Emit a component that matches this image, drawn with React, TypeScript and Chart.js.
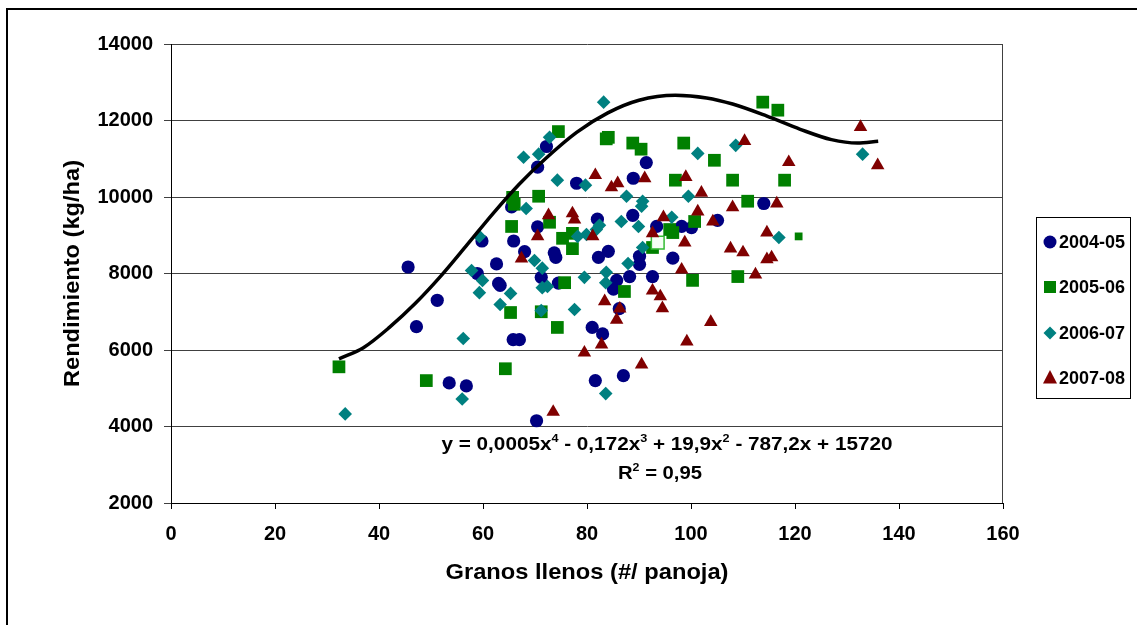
import React, { useEffect, useRef } from "react";
import { Chart, registerables } from "chart.js";

Chart.register(...registerables);

const FONT = '"Liberation Sans", Arial, sans-serif';

const seasons = ["2004-05", "2005-06", "2006-07", "2007-08"];
const seasonColors = ["#000080", "#008000", "#008080", "#800000"];

// 2004-05 (circles)
const granos0405 = [45.6, 47.2, 51.2, 53.5, 56.8, 58.9, 59.8, 62.6, 63.0, 63.3, 65.5, 65.9, 65.8, 67.0, 68.0, 70.5, 70.5, 70.3, 71.2, 72.2, 73.7, 74.0, 74.5, 78.0, 81.0, 81.6, 82.0, 82.2, 83.0, 84.1, 85.1, 85.7, 86.2, 87.0, 88.2, 88.8, 88.9, 90.1, 90.1, 91.4, 92.6, 93.4, 96.5, 98.2, 100.1, 105.1, 114.0];
const rend0405 = [8170, 6610, 7300, 5140, 5060, 8000, 8850, 8250, 7740, 7690, 9740, 8850, 6270, 6270, 8570, 10780, 9220, 4150, 7900, 11320, 8540, 8420, 7750, 10360, 6590, 5200, 9420, 8420, 6420, 8580, 7590, 7820, 7080, 5330, 7920, 9520, 10490, 8240, 8450, 10900, 7920, 9230, 8400, 9230, 9200, 9390, 9830];

// 2005-06 (squares)
const granos0506 = [32.3, 49.1, 64.3, 65.3, 65.5, 65.7, 66.0, 70.7, 71.2, 72.8, 74.3, 74.5, 75.3, 75.7, 77.2, 77.2, 83.7, 84.1, 87.2, 88.8, 90.4, 92.6, 93.6, 95.9, 96.5, 97.0, 98.6, 100.3, 100.7, 104.5, 108.0, 109.0, 110.9, 113.8, 116.7, 118.0, 120.7];
const rend0506 = [5560, 5200, 5510, 6980, 9230, 9990, 9810, 10020, 7000, 9340, 6590, 11710, 8920, 7760, 9050, 8650, 11520, 11560, 7530, 11410, 11250, 8680, 8810, 9150, 9070, 10440, 11410, 7820, 9360, 10960, 10440, 7920, 9890, 12480, 12270, 10440, 8970];

// 2006-07 (diamonds)
const granos0607 = [33.5, 56.0, 56.2, 57.8, 59.3, 59.3, 59.9, 63.3, 65.3, 67.8, 68.3, 69.9, 70.7, 71.2, 71.4, 71.4, 72.4, 72.8, 74.3, 77.6, 78.2, 79.5, 79.7, 79.9, 81.8, 82.4, 83.2, 83.6, 83.6, 83.7, 86.6, 87.6, 87.9, 89.9, 90.5, 90.7, 90.7, 96.3, 99.5, 101.3, 108.6, 116.9, 133.0];
const rend0607 = [4330, 4720, 6300, 8080, 8970, 7500, 7820, 7190, 7480, 11040, 9700, 8340, 11120, 7030, 8140, 7630, 7660, 11560, 10440, 7060, 8970, 7900, 10310, 9020, 9150, 9260, 12480, 4860, 7760, 8030, 9360, 10020, 8260, 9230, 9760, 9890, 8680, 9470, 10020, 11140, 11350, 8940, 11120];

// 2007-08 (triangles)
const granos0708 = [67.4, 70.5, 72.6, 73.5, 77.2, 77.6, 79.5, 81.1, 81.6, 82.8, 83.4, 84.7, 85.7, 85.9, 86.3, 90.5, 91.1, 92.6, 92.6, 94.1, 94.5, 94.7, 98.2, 98.8, 99.0, 99.2, 101.3, 102.0, 103.8, 104.2, 107.6, 108.0, 110.0, 110.3, 112.4, 114.6, 114.6, 115.5, 116.5, 118.8, 132.6, 135.9];
const rend0708 = [8390, 8970, 9520, 4380, 9570, 9410, 5930, 8970, 10570, 6140, 7270, 10250, 6790, 10360, 7080, 5620, 10490, 9050, 7550, 7400, 7090, 9470, 8100, 8810, 10520, 6220, 9620, 10110, 6730, 9360, 8650, 9730, 8550, 11460, 7970, 9070, 8370, 8420, 9830, 10910, 11830, 10830];

// Polynomial trend line
const curveX = [32.3, 37, 42, 47, 52, 57, 62, 67, 72, 78, 84, 90, 97, 103, 108, 114.5, 121, 127, 132, 136];
const curveY = [5770, 6060, 6590, 7220, 7950, 8760, 9580, 10340, 11000, 11690, 12200, 12530, 12660, 12590, 12430, 12120, 11770, 11500, 11410, 11460];

const xTitle = "Granos llenos (#/ panoja)";
const yTitle = "Rendimiento (kg/ha)";
const eqLine1: [string, boolean][] = [
  ["y = 0,0005x", false], ["4", true], [" - 0,172x", false], ["3", true],
  [" + 19,9x", false], ["2", true], [" - 787,2x + 15720", false],
];
const eqLine2: [string, boolean][] = [["R", false], ["2", true], [" = 0,95", false]];

const HOLLOW_IDX = 22;
const SMALL_IDX = 36;

const pts = (xs: number[], ys: number[]) => xs.map((x, i) => ({ x, y: ys[i] }));

function drawRich(ctx: CanvasRenderingContext2D, segs: [string, boolean][], cx: number, baseline: number, targetW: number, size: number) {
  const big = `bold ${size}px ${FONT}`;
  const small = `bold ${Math.round(size * 0.62)}px ${FONT}`;
  let w = 0;
  const widths = segs.map(([t, sup]) => {
    ctx.font = sup ? small : big;
    const m = ctx.measureText(t).width;
    w += m;
    return m;
  });
  const sx = targetW / w;
  ctx.save();
  ctx.translate(cx - targetW / 2, baseline);
  ctx.scale(sx, 1);
  ctx.fillStyle = "#000";
  ctx.textAlign = "left";
  ctx.textBaseline = "alphabetic";
  let x = 0;
  segs.forEach(([t, sup], i) => {
    ctx.font = sup ? small : big;
    ctx.fillText(t, x, sup ? -size * 0.42 : 0);
    x += widths[i];
  });
  ctx.restore();
}

function drawFitText(ctx: CanvasRenderingContext2D, text: string, cx: number, cy: number, targetW: number, size: number, rot: number) {
  ctx.save();
  ctx.font = `bold ${size}px ${FONT}`;
  const w = ctx.measureText(text).width;
  ctx.translate(cx, cy);
  ctx.rotate(rot);
  ctx.scale(targetW / w, 1);
  ctx.fillStyle = "#000";
  ctx.textAlign = "center";
  ctx.textBaseline = "middle";
  ctx.fillText(text, 0, 0);
  ctx.restore();
}

function drawMarker(ctx: CanvasRenderingContext2D, shape: number, x: number, y: number, color: string) {
  ctx.save();
  ctx.fillStyle = color;
  ctx.beginPath();
  if (shape === 0) {
    ctx.arc(x, y, 6.5, 0, Math.PI * 2);
  } else if (shape === 1) {
    ctx.rect(x - 6, y - 6, 12, 12);
  } else if (shape === 2) {
    ctx.moveTo(x - 6.5, y); ctx.lineTo(x, y - 6.5); ctx.lineTo(x + 6.5, y); ctx.lineTo(x, y + 6.5);
  } else {
    ctx.moveTo(x, y - 8); ctx.lineTo(x + 7, y + 5.5); ctx.lineTo(x - 7, y + 5.5);
  }
  ctx.closePath();
  ctx.fill();
  ctx.restore();
}

const decor = {
  id: "decor",
  beforeDatasetsDraw(chart: any) {
    const { ctx, chartArea: a } = chart;
    ctx.save();
    ctx.strokeStyle = "#404040";
    ctx.lineWidth = 1;
    ctx.beginPath();
    ctx.moveTo(Math.round(a.right) - 0.5, a.top);
    ctx.lineTo(Math.round(a.right) - 0.5, a.bottom);
    ctx.stroke();
    ctx.restore();
  },
  afterDraw(chart: any) {
    const ctx: CanvasRenderingContext2D = chart.ctx;
    drawFitText(ctx, xTitle, 587, 573, 283, 22, 0);
    drawFitText(ctx, yTitle, 73, 273.5, 227, 22, -Math.PI / 2);
    drawRich(ctx, eqLine1, 667, 450, 451, 18);
    drawRich(ctx, eqLine2, 660, 478.5, 84, 18);
    // legend
    ctx.save();
    ctx.strokeStyle = "#000";
    ctx.lineWidth = 1;
    ctx.strokeRect(1036.5, 217.5, 94, 181);
    const ys = [242, 287, 333, 378];
    seasons.forEach((s, i) => {
      drawMarker(ctx, i, 1050, ys[i], seasonColors[i]);
      ctx.font = `bold 18px ${FONT}`;
      ctx.fillStyle = "#000";
      ctx.textAlign = "left";
      ctx.textBaseline = "middle";
      ctx.fillText(s, 1059, ys[i] + 1);
    });
    ctx.restore();
  },
};

export default function App() {
  const ref = useRef<HTMLCanvasElement>(null);
  useEffect(() => {
    if (!ref.current) return;
    const tickFont = { family: FONT, size: 20, weight: "bold" as const };
    const chart = new Chart(ref.current, {
      type: "scatter",
      data: {
        datasets: [
          {
            label: seasons[0], data: pts(granos0405, rend0405), order: 4,
            pointStyle: "circle", pointRadius: 6.6, pointHoverRadius: 6.6,
            backgroundColor: seasonColors[0], borderColor: seasonColors[0], borderWidth: 0,
          },
          {
            label: seasons[1], data: pts(granos0506, rend0506), order: 3,
            pointStyle: "rect",
            pointRadius: (c: any) => (c.dataIndex === SMALL_IDX ? 5.5 : 9),
            pointHoverRadius: (c: any) => (c.dataIndex === SMALL_IDX ? 5.5 : 9),
            backgroundColor: (c: any) => (c.dataIndex === HOLLOW_IDX ? "#f4fff4" : seasonColors[1]),
            borderColor: (c: any) => (c.dataIndex === HOLLOW_IDX ? "#33bb33" : seasonColors[1]),
            borderWidth: (c: any) => (c.dataIndex === HOLLOW_IDX ? 1.5 : 0),
          },
          {
            label: seasons[2], data: pts(granos0607, rend0607), order: 2,
            pointStyle: "rectRot", pointRadius: 6.8, pointHoverRadius: 6.8,
            backgroundColor: seasonColors[2], borderColor: seasonColors[2], borderWidth: 0,
          },
          {
            label: seasons[3], data: pts(granos0708, rend0708), order: 1,
            pointStyle: "triangle", pointRadius: 7.8, pointHoverRadius: 7.8,
            backgroundColor: seasonColors[3], borderColor: seasonColors[3], borderWidth: 0,
          },
          {
            label: "Polinómica", data: pts(curveX, curveY), order: 0,
            showLine: true, pointRadius: 0, pointHoverRadius: 0,
            borderColor: "#000", borderWidth: 3.5, cubicInterpolationMode: "monotone",
            backgroundColor: "#000",
          } as any,
        ],
      },
      options: {
        animation: false,
        responsive: false,
        maintainAspectRatio: false,
        events: [],
        layout: { padding: { top: 44, right: 134, left: 0, bottom: 0 } },
        plugins: { legend: { display: false }, tooltip: { enabled: false }, title: { display: false } },
        scales: {
          x: {
            type: "linear", min: 0, max: 160,
            ticks: { stepSize: 20, font: tickFont, color: "#000", padding: 13, maxRotation: 0, callback: (v: any) => String(v) },
            grid: { drawOnChartArea: false, drawTicks: true, tickLength: 6, color: "#000" },
            border: { display: true, color: "#000", width: 1 },
            afterFit: (s: any) => { s.height = 122; },
          },
          y: {
            type: "linear", min: 2000, max: 14000,
            ticks: { stepSize: 2000, font: tickFont, color: "#000", padding: 11, callback: (v: any) => String(v) },
            grid: { color: "#404040", lineWidth: 1, tickLength: 7 },
            border: { display: true, color: "#000", width: 1 },
            afterFit: (s: any) => { s.width = 171; },
          },
        },
      },
      plugins: [decor],
    });
    return () => chart.destroy();
  }, []);

  return (
    <div style={{ position: "fixed", left: 0, top: 0, width: 1137, height: 625, overflow: "hidden", background: "#fff" }}>
      <canvas ref={ref} width={1137} height={625} style={{ position: "absolute", left: 0, top: 0, width: 1137, height: 625 }} />
      <div style={{ position: "absolute", left: 6, top: 8, width: 1160, height: 660, border: "2px solid #000", pointerEvents: "none" }} />
    </div>
  );
}
